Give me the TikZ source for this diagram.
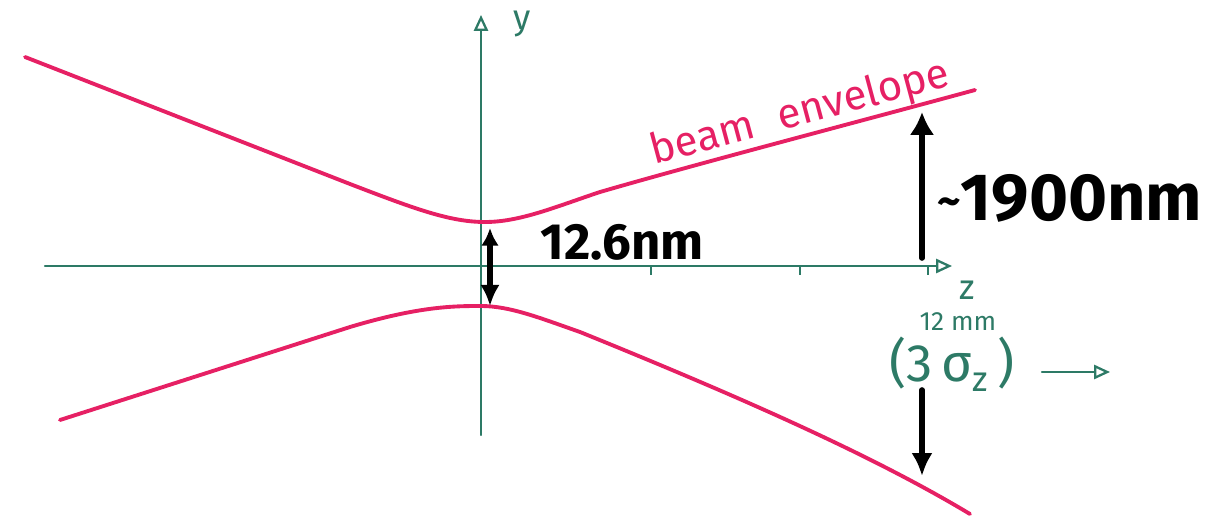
\documentclass[tikz,border=0pt]{standalone}
\usepackage{fontspec}
\setmainfont{Fira Sans}
\usetikzlibrary{arrows.meta}
\definecolor{beamred}{RGB}{230,32,100}
\definecolor{axisgreen}{RGB}{45,122,102}
\begin{document}
\begin{tikzpicture}[x=0.02cm,y=-0.02cm,
  axisline/.style={draw=axisgreen,line width=1.3pt,line cap=round},
  greenhead/.style={-{Triangle[open,length=9pt,width=8pt,line width=1.3pt]}},
  envline/.style={draw=beamred,line width=2.2pt,line cap=round,line join=round},
  dimarrow/.style={draw=black,line width=3.2pt,line cap=round},
  blacktxt/.style={text=black,font=\bfseries,inner sep=0pt},
  greentxt/.style={text=axisgreen,inner sep=0pt},
  tickmark/.style={draw=axisgreen,line width=1.5pt}]
\useasboundingbox (0,0) rectangle (1208,517);
% axes
\coordinate (ybot) at (481,435);
\coordinate (ytop) at (481,15);
\coordinate (zleft) at (45,266);
\coordinate (zright) at (952,266);
\draw[axisline,greenhead] (ybot) -- (ytop);
\draw[axisline,greenhead] (zleft) -- (zright);
\foreach \tx/\tn in {651/ta,800/tb,928/tc}{
  \coordinate (\tn) at (\tx,266);
  \draw[tickmark] (\tn) -- ++(0,9);
}
\node[greentxt,font=\fontsize{20}{20}\selectfont] (ylab) at (522,24) {y};
\node[greentxt,font=\fontsize{20}{20}\selectfont] (zlab) at (967,290) {z};
\node[greentxt,font=\fontsize{15}{15}\selectfont] (mmlab) at (958,322) {12 mm};
\node[greentxt,font=\fontsize{30}{30}\selectfont] (sigmalab) at (952,364) {(3\,σ\raisebox{-0.35ex}{\fontsize{20}{20}\selectfont z}\,)};
\coordinate (sarrow) at (1110,372);
\draw[axisline,greenhead] (1042,372) -- (sarrow);
% envelopes
\draw[envline] (25,57) -- (350,184) .. controls (415,209) and (450,222) .. (485,222)
  .. controls (520,222) and (555,207) .. (600,192) .. controls (700,163) and (850,124) .. (975,90);
\draw[envline] (60,420) -- (350,327) .. controls (420,306) and (455,306) .. (481,306)
  .. controls (510,306) and (540,318) .. (580,332) .. controls (760,405) and (880,460) .. (970,514);
\node[text=beamred,rotate=15,font=\fontsize{24}{24}\selectfont,inner sep=0pt] (envlab) at (800,114) {beam\hspace{0.6em}envelope};
% dimension arrows
\coordinate (waisttop) at (490,228);
\coordinate (waistbot) at (490,306);
\draw[dimarrow,{Latex[length=10pt,width=10pt]}-{Latex[length=12pt,width=11pt]}] (waisttop) -- (waistbot);
\node[blacktxt,font=\bfseries\fontsize{29}{29}\selectfont] (waistlab) at (622,242) {12.6nm};
\coordinate (upbase) at (922,258);
\coordinate (uptip) at (922,112);
\draw[dimarrow,-{Latex[length=13pt,width=14pt]}] (upbase) -- (uptip);
\node[blacktxt,font=\fontsize{38}{38}\selectfont\bfseries,anchor=west] (biglab) at (937,198) {\raisebox{0.1ex}{\fontsize{26}{26}\selectfont\char"007E}1900nm};
\coordinate (dnbase) at (922,390);
\coordinate (dntip) at (922,476);
\draw[dimarrow,-{Latex[length=13pt,width=12pt]}] (dnbase) -- (dntip);
\end{tikzpicture}
\end{document}
